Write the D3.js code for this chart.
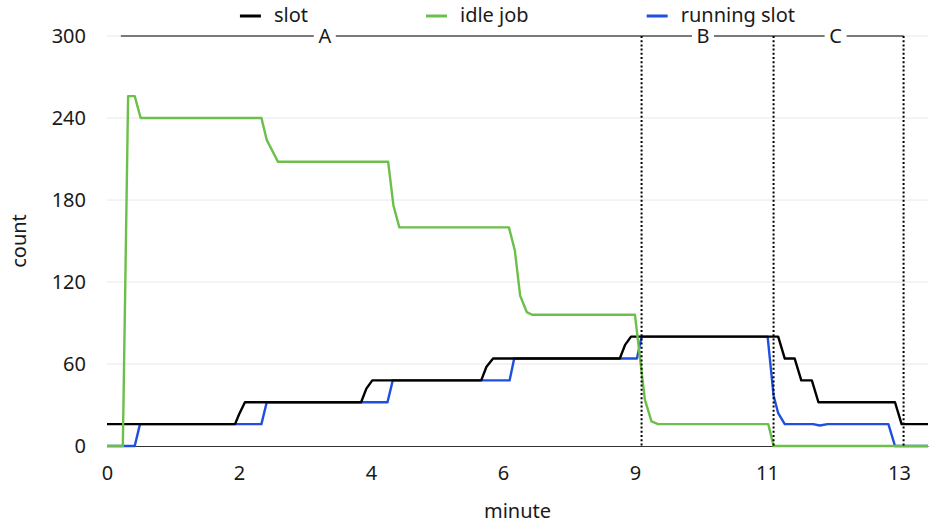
<!DOCTYPE html>
<html>
<head>
<meta charset="utf-8">
<script src="https://cdn.jsdelivr.net/npm/d3@7"></script>
<style>
  html, body { margin: 0; padding: 0; background: #fff; }
  svg { display: block; font-family: "Noto Sans", sans-serif; }
</style>
</head>
<body>
<svg id="chart" width="948" height="523"></svg>
<script>
// ---- data ----
const xTickValues = [0, 2, 4, 6, 8, 10, 12];
const xTickLabels = ["0", "2", "4", "6", "9", "11", "13"];
const yTickValues = [0, 60, 120, 180, 240, 300];
const xMax = 12.44;
const yMax = 300;

const seriesNames = ["slot", "idle job", "running slot"];
const seriesColors = ["#000000", "#6cbf4a", "#1f4fe0"];

const slotX = [0, 1.94, 2.0, 2.09, 3.85, 3.93, 4.02, 5.67, 5.75, 5.85, 7.77, 7.85, 7.94, 10.17, 10.27, 10.42, 10.52, 10.68, 10.78, 11.94, 12.04, 12.44];
const slotY = [16, 16, 23, 32, 32, 42, 48, 48, 58, 64, 64, 74, 80, 80, 64, 64, 48, 48, 32, 32, 16, 16];

const idleX = [0, 0.24, 0.32, 0.42, 0.51, 2.34, 2.42, 2.59, 4.26, 4.34, 4.43, 6.09, 6.18, 6.26, 6.36, 6.44, 8.0, 8.15, 8.25, 8.35, 10.02, 10.1, 12.44];
const idleY = [0, 0, 256, 256, 240, 240, 224, 208, 208, 176, 160, 160, 143, 110, 98, 96, 96, 34, 18, 16, 16, 0, 0];

const runX = [0, 0.42, 0.5, 2.34, 2.42, 4.25, 4.33, 6.1, 6.17, 8.03, 8.1, 10.01, 10.1, 10.17, 10.27, 10.7, 10.8, 10.92, 11.84, 11.94, 12.44];
const runY = [0, 0, 16, 16, 32, 32, 48, 48, 64, 64, 80, 80, 37, 24, 16, 16, 15, 16, 16, 0, 0];

const regionBounds = [0.21, 8.10, 10.10, 12.07];
const regionLabels = ["A", "B", "C"];
const regionLabelX = [3.3, 9.03, 11.04];
const regionLevel = 300;

const xTitle = "minute";
const yTitle = "count";

// ---- layout ----
const W = 948, H = 523;
const margin = { left: 107, right: 20, top: 36, bottom: 77 };
const svg = d3.select("#chart");

const x = d3.scaleLinear().domain([0, xMax]).range([margin.left, W - margin.right]);
const y = d3.scaleLinear().domain([0, yMax]).range([H - margin.bottom, margin.top]);

// gridlines
svg.append("g")
  .selectAll("line")
  .data(yTickValues.filter(d => d > 0))
  .join("line")
  .attr("x1", x(0)).attr("x2", x(xMax))
  .attr("y1", d => y(d)).attr("y2", d => y(d))
  .attr("stroke", "#e8e8e8").attr("stroke-width", 1);

// x axis
const xAxis = svg.append("g")
  .attr("transform", `translate(0,${y(0)})`)
  .call(d3.axisBottom(x).tickValues(xTickValues).tickFormat((d, i) => xTickLabels[i]).tickSize(0).tickPadding(20));
xAxis.select(".domain").attr("stroke", "#333").attr("stroke-width", 1);
xAxis.selectAll("text").attr("font-size", 20).attr("fill", "#1a1a1a").attr("font-family", "Noto Sans, sans-serif");

// y axis
const yAxis = svg.append("g")
  .attr("transform", `translate(${x(0)},0)`)
  .call(d3.axisLeft(y).tickValues(yTickValues).tickSize(0).tickPadding(21));
yAxis.select(".domain").remove();
yAxis.selectAll("text").attr("font-size", 20).attr("fill", "#1a1a1a").attr("font-family", "Noto Sans, sans-serif");

// titles
svg.append("text")
  .attr("x", (x(0) + x(xMax)) / 2).attr("y", 518)
  .attr("text-anchor", "middle").attr("font-size", 20).attr("fill", "#1a1a1a")
  .text(xTitle);
svg.append("text")
  .attr("transform", `translate(26,${(y(0) + y(yMax)) / 2}) rotate(-90)`)
  .attr("text-anchor", "middle").attr("font-size", 20).attr("fill", "#1a1a1a")
  .text(yTitle);

// series
const line = d3.line().x(d => x(d[0])).y(d => y(d[1]));
const series = [
  { name: seriesNames[0], color: seriesColors[0], pts: slotX.map((v, i) => [v, slotY[i]]) },
  { name: seriesNames[1], color: seriesColors[1], pts: idleX.map((v, i) => [v, idleY[i]]) },
  { name: seriesNames[2], color: seriesColors[2], pts: runX.map((v, i) => [v, runY[i]]) }
];
const drawOrder = [2, 0, 1];
svg.append("g")
  .selectAll("path")
  .data(drawOrder.map(i => series[i]))
  .join("path")
  .attr("d", d => line(d.pts))
  .attr("fill", "none")
  .attr("stroke", d => d.color)
  .attr("stroke-width", 2.4)
  .attr("stroke-linejoin", "round");

// region annotations
const ann = svg.append("g");
ann.append("line")
  .attr("x1", x(regionBounds[0])).attr("x2", x(regionBounds[regionBounds.length - 1]))
  .attr("y1", y(regionLevel)).attr("y2", y(regionLevel))
  .attr("stroke", "#000").attr("stroke-width", 1.2);
ann.selectAll("line.div")
  .data(regionBounds.slice(1))
  .join("line")
  .attr("class", "div")
  .attr("x1", d => x(d)).attr("x2", d => x(d))
  .attr("y1", y(regionLevel)).attr("y2", y(0))
  .attr("stroke", "#000").attr("stroke-width", 2)
  .attr("stroke-dasharray", "2,2.2");
const labG = ann.selectAll("g.lab")
  .data(regionLabels)
  .join("g").attr("class", "lab")
  .attr("transform", (d, i) => `translate(${x(regionLabelX[i])},${y(regionLevel)})`);
labG.append("rect")
  .attr("x", -11).attr("y", -10).attr("width", 22).attr("height", 20)
  .attr("fill", "#fff");
labG.append("text")
  .attr("text-anchor", "middle").attr("dy", "0.36em")
  .attr("font-size", 20).attr("fill", "#1a1a1a")
  .text(d => d);

// legend
const leg = svg.append("g");
const items = leg.selectAll("g")
  .data(series)
  .join("g");
items.append("line")
  .attr("x1", 0).attr("x2", 21).attr("y1", 16).attr("y2", 16)
  .attr("stroke", d => d.color).attr("stroke-width", 3);
items.append("text")
  .attr("x", 34).attr("y", 22)
  .attr("font-size", 20).attr("fill", "#1a1a1a")
  .text(d => d.name);
const gap = 118;
const widths = [];
items.each(function () { widths.push(this.getBBox().width); });
const total = d3.sum(widths) + gap * (widths.length - 1);
let cx = (x(0) + x(xMax)) / 2 - total / 2;
items.attr("transform", (d, i) => {
  const t = `translate(${cx},0)`;
  cx += widths[i] + gap;
  return t;
});
</script>
</body>
</html>
